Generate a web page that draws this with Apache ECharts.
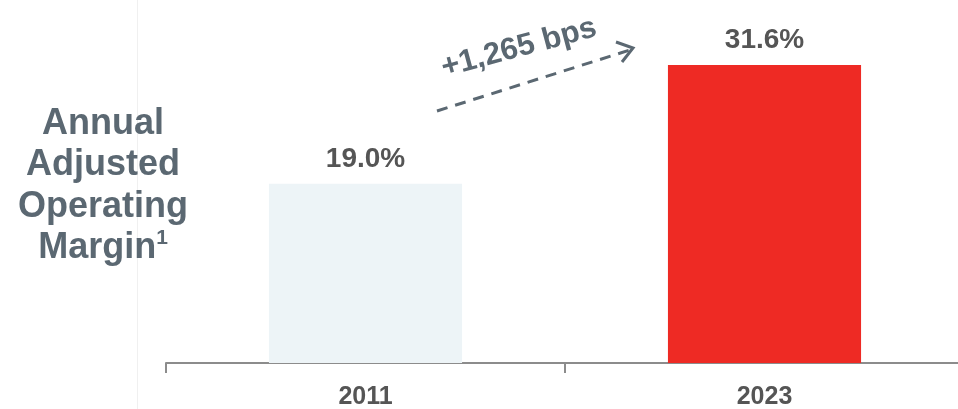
<!DOCTYPE html>
<html>
<head>
<meta charset="utf-8">
<script src="https://cdn.jsdelivr.net/npm/echarts@6/dist/echarts.min.js"></script>
<style>
html,body{margin:0;padding:0;background:#fff;overflow:hidden;}
#chart{width:958px;height:409px;}
</style>
</head>
<body>
<div id="chart"></div>
<script>
const categories = ['2011', '2023'];
const marginValues = [19.0, 31.6];
const barColors = ['#edf4f7', '#ee2a24'];
const titleLines = ['Annual', 'Adjusted', 'Operating', 'Margin'];
const footnoteMark = '1';
const changeLabel = '+1,265 bps';

const chart = echarts.init(document.getElementById('chart'));
const FONT = '"Liberation Sans", Arial, Helvetica, sans-serif';

chart.setOption({
  animation: false,
  backgroundColor: '#ffffff',
  title: {
    text: titleLines.join('\n') + '{sup|' + footnoteMark + '}',
    left: 98,
    top: 98,
    textAlign: 'center',
    textStyle: {
      fontFamily: FONT,
      fontSize: 36,
      fontWeight: 'bold',
      color: '#5b6872',
      lineHeight: 41.5,
      rich: {
        sup: {
          fontFamily: FONT,
          fontSize: 21,
          fontWeight: 'bold',
          color: '#5b6872',
          lineHeight: 41.5,
          verticalAlign: 'top',
          padding: [0, 0, 14, 0]
        }
      }
    }
  },
  grid: { left: 166, width: 798, top: 33, bottom: 46, containLabel: false, outerBoundsMode: 'none' },
  xAxis: {
    type: 'category',
    data: categories,
    axisLine: { show: true, lineStyle: { color: '#8c8c8c', width: 2 } },
    axisTick: { show: true, length: 10, lineStyle: { color: '#8c8c8c', width: 2 } },
    axisLabel: {
      margin: 22,
      fontFamily: FONT,
      fontSize: 25,
      fontWeight: 'bold',
      color: '#555555'
    }
  },
  yAxis: {
    type: 'value',
    min: 0,
    max: 35,
    show: false,
    splitLine: { show: false }
  },
  series: [{
    type: 'bar',
    barWidth: '48.4%',
    data: marginValues.map((v, i) => ({ value: v, itemStyle: { color: barColors[i] } })),
    label: {
      show: true,
      position: 'top',
      distance: 11,
      formatter: p => p.value.toFixed(1) + '%',
      fontFamily: FONT,
      fontSize: 28,
      fontWeight: 'bold',
      color: '#555555'
    }
  }],
  graphic: [
    {
      type: 'line',
      shape: { x1: 137.5, y1: 0, x2: 137.5, y2: 409 },
      style: { stroke: '#f0f0f0', lineWidth: 1 },
      silent: true
    },
    {
      type: 'line',
      shape: { x1: 437, y1: 111, x2: 630, y2: 50 },
      style: { stroke: '#5b6872', lineWidth: 3, lineDash: [11, 8] }
    },
    {
      type: 'polyline',
      shape: { points: [[616, 42], [633, 48], [622, 62]] },
      style: { stroke: '#5b6872', lineWidth: 3, fill: null }
    },
    {
      type: 'text',
      x: 519,
      y: 48,
      rotation: 15 * Math.PI / 180,
      style: {
        text: changeLabel,
        fontFamily: FONT,
        fontSize: 31,
        fontWeight: 'bold',
        fill: '#5b6872',
        align: 'center',
        verticalAlign: 'middle'
      }
    }
  ]
});
</script>
</body>
</html>
